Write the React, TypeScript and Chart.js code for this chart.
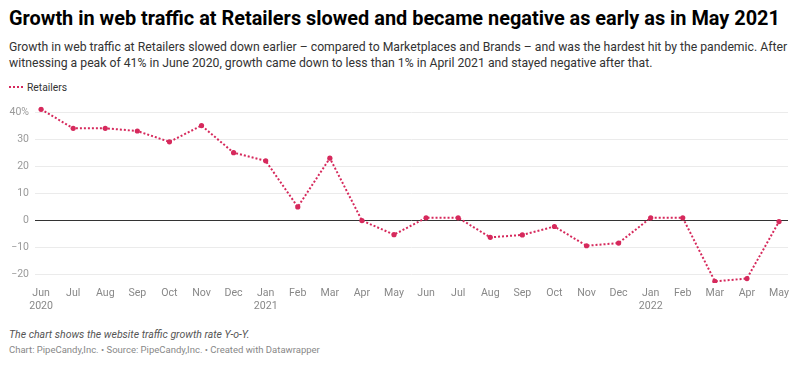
import React, { useEffect, useRef } from "react";
import { Chart, registerables } from "chart.js";

Chart.register(...registerables);

const months = ["Jun", "Jul", "Aug", "Sep", "Oct", "Nov", "Dec", "Jan", "Feb", "Mar", "Apr", "May", "Jun", "Jul", "Aug", "Sep", "Oct", "Nov", "Dec", "Jan", "Feb", "Mar", "Apr", "May"];
const years: Record<number, string> = { 0: "2020", 7: "2021", 19: "2022" };
const retailers = [41, 34, 34, 33, 29, 35, 25, 22, 5, 23, 0, -5.2, 1, 1, -6.2, -5.3, -2.2, -9.3, -8.3, 1, 1, -22.4, -21.4, -0.4];
const yTicks = [-20, -10, 0, 10, 20, 30, 40];

const FONT = "Roboto, 'Noto Sans', sans-serif";
const RED = "#d6295c";

function ChartCanvas() {
  const ref = useRef<HTMLCanvasElement | null>(null);
  useEffect(() => {
    if (!ref.current) return;
    const chart = new Chart(ref.current, {
      type: "line",
      data: {
        datasets: [
          {
            label: "Retailers",
            data: retailers.map((v, i) => ({ x: i, y: v })),
            borderColor: RED,
            backgroundColor: RED,
            borderWidth: 2,
            borderDash: [2, 2],
            pointRadius: 2.6,
            pointBorderWidth: 0,
            pointBackgroundColor: RED,
            tension: 0,
          },
        ],
      },
      options: {
        animation: false,
        responsive: false,
        maintainAspectRatio: false,
        layout: { padding: { top: 6.6, right: 12, bottom: 0, left: 0 } },
        plugins: { legend: { display: false }, tooltip: { enabled: false } },
        scales: {
          x: {
            type: "linear",
            min: -0.19,
            max: 23.28,
            afterBuildTicks: (scale: any) => {
              scale.ticks = months.map((_, i) => ({ value: i }));
            },
            afterFit: (scale: any) => {
              scale.paddingLeft = 0;
              scale.paddingRight = 0;
            },
            ticks: {
              autoSkip: false,
              maxRotation: 0,
              padding: 3.5,
              color: "#888",
              font: { family: FONT, size: 10.6, lineHeight: 1.23 },
              callback: (v: any) => {
                const i = Number(v);
                return years[i] ? [months[i], years[i]] : months[i];
              },
            },
            grid: { display: false, drawTicks: false },
            border: { display: false },
          },
          y: {
            min: -23,
            max: 42,
            afterBuildTicks: (scale: any) => {
              scale.ticks = yTicks.map((v) => ({ value: v }));
            },
            afterFit: (scale: any) => {
              scale.width = 35;
              scale.paddingTop = 0;
              scale.paddingBottom = 0;
            },
            ticks: {
              padding: 6,
              color: "#9a9a9a",
              font: { family: FONT, size: 10.5 },
              callback: (v: any) => {
                const n = Number(v);
                if (n === 40) return "40%";
                return n < 0 ? "\u2212" + Math.abs(n) : String(n);
              },
            },
            grid: {
              drawTicks: false,
              color: (ctx: any) => (ctx.tick && ctx.tick.value === 0 ? "#333" : "#ebebeb"),
              lineWidth: 1,
            },
            border: { display: false },
          },
        },
      },
    });
    return () => chart.destroy();
  }, []);
  return <canvas ref={ref} width={800} height={216} style={{ position: "absolute", left: 0, top: 100, width: 800, height: 216 }} />;
}

export default function App() {
  return (
    <div style={{ position: "absolute", left: 0, top: 0, width: 800, height: 365, background: "#fff", fontFamily: FONT, color: "#333" }}>
      <div style={{ position: "absolute", left: 9, top: 6, fontSize: 19.9, fontWeight: 700, color: "#000", whiteSpace: "nowrap", lineHeight: "26px" }}>
        Growth in web traffic at Retailers slowed and became negative as early as in May 2021
      </div>
      <div style={{ position: "absolute", left: 9, top: 39, fontSize: 12.22, lineHeight: "16px", color: "#333", whiteSpace: "nowrap" }}>
        Growth in web traffic at Retailers slowed down earlier – compared to Marketplaces and Brands – and was the hardest hit by the pandemic. After
        <br />
        witnessing a peak of 41% in June 2020, growth came down to less than 1% in April 2021 and stayed negative after that.
      </div>
      <div style={{ position: "absolute", left: 9, top: 80, height: 14, display: "flex", alignItems: "center", fontSize: 10.3, color: "#333", whiteSpace: "nowrap" }}>
        <span style={{ display: "block", width: 14, height: 0, borderTop: `2px dotted ${RED}`, marginRight: 4 }} />
        <span>Retailers</span>
      </div>
      <ChartCanvas />
      <div style={{ position: "absolute", left: 9, top: 328, fontSize: 10.5, fontStyle: "italic", color: "#555", whiteSpace: "nowrap" }}>
        The chart shows the website traffic growth rate Y-o-Y.
      </div>
      <div style={{ position: "absolute", left: 9, top: 344, fontSize: 9.5, color: "#888", whiteSpace: "nowrap" }}>
        Chart: PipeCandy,Inc. • Source: PipeCandy,Inc. • Created with Datawrapper
      </div>
    </div>
  );
}
